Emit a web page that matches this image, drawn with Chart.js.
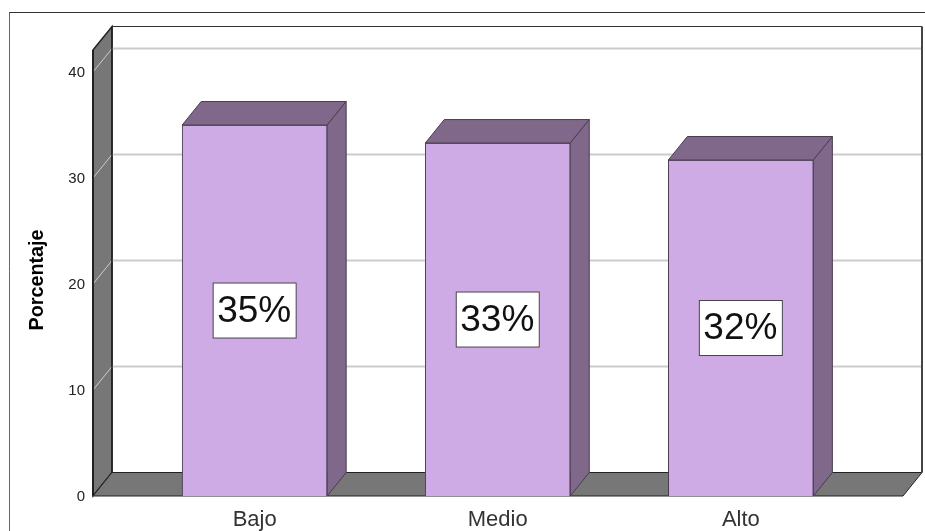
<!DOCTYPE html>
<html>
<head>
<meta charset="utf-8">
<script src="https://cdn.jsdelivr.net/npm/chart.js@4"></script>
<style>
  html,body{margin:0;padding:0;background:#fff;overflow:hidden}
  canvas{display:block}
</style>
</head>
<body>
<canvas id="barChart" width="925" height="531"></canvas>
<script>
const categories = ['Bajo','Medio','Alto'];
const values = [35, 33.3, 31.7];
const pctLabels = ['35%','33%','32%'];
const yTicks = [0,10,20,30,40];
const yTitle = 'Porcentaje';

// depth of the fake 3D box
const DX = 19, DY = -23.5;

function poly(ctx, pts, fill, stroke, lw){
  ctx.beginPath();
  pts.forEach((p,i)=> i ? ctx.lineTo(p[0],p[1]) : ctx.moveTo(p[0],p[1]));
  ctx.closePath();
  if(fill){ ctx.fillStyle = fill; ctx.fill(); }
  if(stroke){ ctx.strokeStyle = stroke; ctx.lineWidth = lw||1; ctx.stroke(); }
}

function line(ctx, x1, y1, x2, y2, color, lw){
  ctx.beginPath();
  ctx.moveTo(x1,y1);
  ctx.lineTo(x2,y2);
  ctx.strokeStyle = color;
  ctx.lineWidth = lw;
  ctx.stroke();
}

const box3d = {
  id:'box3d',
  beforeDraw(chart){
    const ctx = chart.ctx;
    ctx.save();
    // outer frame, runs off the right and bottom of the picture
    line(ctx, 9, 12.5, 925, 12.5, '#333', 1);
    line(ctx, 9.5, 12.5, 9.5, 531, '#666', 1);
    ctx.restore();
  },
  beforeDatasetsDraw(chart){
    const ctx = chart.ctx, a = chart.chartArea, y = chart.scales.y;
    ctx.save();
    // left wall and floor
    poly(ctx, [[a.left,a.top],[a.left+DX,a.top+DY],[a.left+DX,a.bottom+DY],[a.left,a.bottom]], '#777', '#222', 1.5);
    poly(ctx, [[a.left,a.bottom],[a.left+DX,a.bottom+DY],[a.right+DX,a.bottom+DY],[a.right,a.bottom]], '#777', '#222', 1);
    // gridlines across the side wall and the back wall
    yTicks.slice(1).forEach(t=>{
      const py = y.getPixelForValue(t);
      line(ctx, a.left, py, a.left+DX, py+DY, '#ccc', 1);
      line(ctx, a.left+DX, py+DY, a.right+DX, py+DY, '#ccc', 2);
    });
    // back wall edges
    line(ctx, a.left+DX, a.top+DY, a.right+DX, a.top+DY, '#333', 1);
    line(ctx, a.left+DX, a.top+DY, a.left+DX, a.bottom+DY, '#222', 1.5);
    line(ctx, a.right+DX, a.top+DY, a.right+DX, a.bottom+DY, '#444', 2);
    line(ctx, a.left, a.top, a.left, a.bottom, '#222', 2);
    ctx.restore();
  },
  afterDatasetsDraw(chart){
    const ctx = chart.ctx, bars = chart.getDatasetMeta(0).data;
    ctx.save();
    bars.forEach((b,i)=>{
      const l = b.x - b.width/2, r = b.x + b.width/2;
      // top and right faces
      poly(ctx, [[l,b.y],[l+DX,b.y+DY],[r+DX,b.y+DY],[r,b.y]], '#7f6889', '#4a3d50', 1);
      poly(ctx, [[r,b.y],[r+DX,b.y+DY],[r+DX,b.base+DY],[r,b.base]], '#7f6889', '#4a3d50', 1);
      // value box in the middle of the bar
      const cy = (b.y + b.base)/2;
      ctx.fillStyle = '#fff';
      ctx.fillRect(b.x-41.5, cy-27.5, 83, 55);
      ctx.strokeStyle = '#4a4450';
      ctx.lineWidth = 1;
      ctx.strokeRect(b.x-41.5, cy-27.5, 83, 55);
      ctx.fillStyle = '#111';
      ctx.font = '37px "Liberation Sans"';
      ctx.textAlign = 'center';
      ctx.textBaseline = 'middle';
      ctx.fillText(pctLabels[i], b.x-0.5, cy+1);
    });
    // axis title, sits a bit below the middle of the axis, squeezed like the original
    ctx.translate(37, 280);
    ctx.rotate(-Math.PI/2);
    ctx.scale(0.94, 1);
    ctx.fillStyle = '#000';
    ctx.font = 'bold 21px "Liberation Sans"';
    ctx.textAlign = 'center';
    ctx.textBaseline = 'middle';
    ctx.fillText(yTitle, 0, 0);
    ctx.restore();
  }
};

new Chart(document.getElementById('barChart').getContext('2d'), {
  type:'bar',
  data:{
    datasets:[{
      data: values.map((v,i)=>({x:i+1,y:v})),
      backgroundColor:'#cfabe6',
      borderColor:'#4a3d50',
      borderWidth:1,
      barThickness:145
    }]
  },
  options:{
    responsive:false,
    animation:false,
    layout:{ padding:{ top:50, right:22, bottom:0, left:0 } },
    plugins:{ legend:{ display:false }, tooltip:{ enabled:false } },
    scales:{
      x:{
        type:'linear',
        offset:false,
        min:0.335,
        max:3.667,
        grid:{ display:false, drawTicks:false },
        border:{ display:false },
        afterBuildTicks(s){ s.ticks = categories.map((c,i)=>({value:i+1})); },
        afterFit(s){ s.height = 35; },
        ticks:{
          autoSkip:false,
          maxRotation:0,
          padding:11,
          color:'#333',
          font:{ family:'"Liberation Sans"', size:22 },
          callback:v=>categories[v-1]
        }
      },
      y:{
        min:0,
        max:42.08,
        grid:{ display:false, drawTicks:false },
        border:{ display:false },
        afterBuildTicks(s){ s.ticks = yTicks.map(v=>({value:v})); },
        afterFit(s){ s.width = 93; },
        ticks:{
          padding:8,
          labelOffset:1,
          color:'#222',
          font:{ family:'"Liberation Sans"', size:15 }
        }
      }
    }
  },
  plugins:[box3d]
});
</script>
</body>
</html>
